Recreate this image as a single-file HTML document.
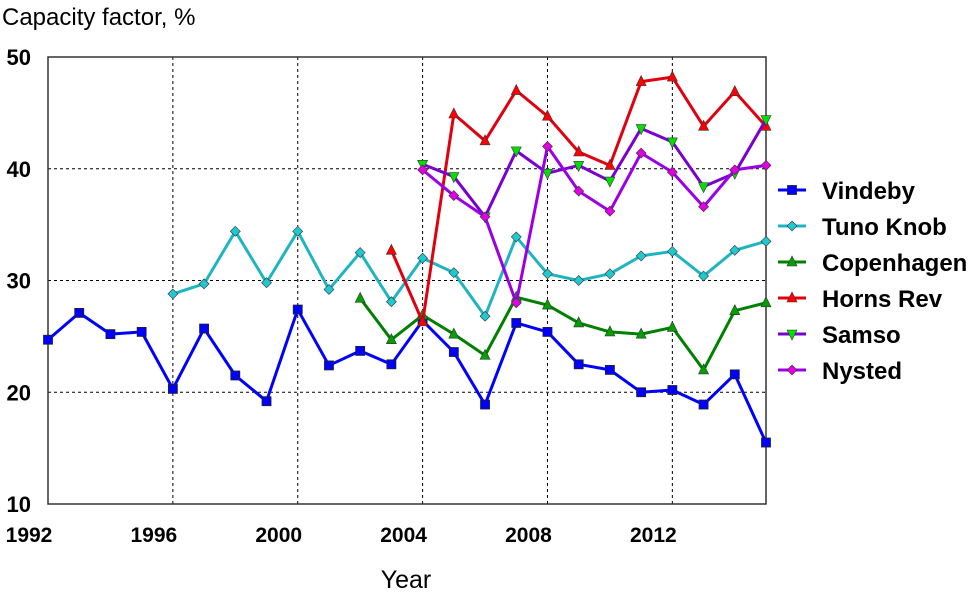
<!DOCTYPE html>
<html><head><meta charset="utf-8"><style>
body{margin:0;background:#fff;font-family:"Liberation Sans",Arial,sans-serif}
svg text{font-family:"Liberation Sans",Arial,sans-serif}
</style></head><body>
<svg id="c" width="980" height="592" xmlns="http://www.w3.org/2000/svg"></svg>
<script>
const years=[1992,1993,1994,1995,1996,1997,1998,1999,2000,2001,2002,2003,2004,2005,2006,2007,2008,2009,2010,2011,2012,2013,2014,2015];
const vindeby=[24.7,27.1,25.2,25.4,20.3,25.7,21.5,19.2,27.4,22.4,23.7,22.5,26.4,23.6,18.9,26.2,25.4,22.5,22.0,20.0,20.2,18.9,21.6,15.5];
const tunoKnob=[null,null,null,null,28.8,29.7,34.4,29.8,34.4,29.2,32.5,28.1,32.0,30.7,26.8,33.9,30.6,30.0,30.6,32.2,32.6,30.4,32.7,33.5];
const copenhagen=[null,null,null,null,null,null,null,null,null,null,28.4,24.7,26.9,25.2,23.3,28.5,27.8,26.2,25.4,25.2,25.8,22.0,27.3,28.0];
const hornsRev=[null,null,null,null,null,null,null,null,null,null,null,32.7,26.3,44.9,42.5,47.0,44.7,41.5,40.3,47.8,48.2,43.8,46.9,43.8];
const samso=[null,null,null,null,null,null,null,null,null,null,null,null,40.4,39.3,35.7,41.6,39.6,40.3,38.9,43.6,42.4,38.4,39.6,44.4];
const nysted=[null,null,null,null,null,null,null,null,null,null,null,null,39.9,37.6,35.7,28.0,42.0,38.0,36.2,41.4,39.7,36.6,39.9,40.3];
const xTicks=[1992,1996,2000,2004,2008,2012];
const yTicks=[10,20,30,40,50];
const L=48,R=766,T=57,B=504;
const x=v=>L+(v-1992)/(2015-1992)*(R-L);
const y=v=>B-(v-10)/40*(B-T);
const svg=document.getElementById('c');const NS='http://www.w3.org/2000/svg';
function el(t,a,p){const e=document.createElementNS(NS,t);for(const k in a)e.setAttribute(k,a[k]);(p||svg).appendChild(e);return e;}
xTicks.forEach(t=>{if(t>1992){const g=el('line',{x1:x(t),x2:x(t),y1:T,y2:B,stroke:'#000','stroke-dasharray':'3,3','stroke-width':1});}
 const tx=el('text',{x:x(t)-19,y:542,'text-anchor':'middle','font-size':21,'font-weight':'bold'});tx.textContent=t;});
yTicks.forEach(t=>{if(t>10&&t<50){const g=el('line',{x1:L,x2:R,y1:y(t),y2:y(t),stroke:'#000','stroke-dasharray':'3,3','stroke-width':1});}
 const tx=el('text',{x:31,y:y(t)+8,'text-anchor':'end','font-size':22,'font-weight':'bold'});tx.textContent=t;});
const fr=el('rect',{x:L,y:T,width:R-L,height:B-T,fill:'none',stroke:'#333','stroke-width':1.5});

function marker(type,cx,cy,fill,g){
 if(type==='sq')return el('rect',{x:cx-4.5,y:cy-4.5,width:9,height:9,fill,stroke:'#222','stroke-width':0.8},g);
 if(type==='dia')return el('polygon',{points:`${cx},${cy-5} ${cx+5},${cy} ${cx},${cy+5} ${cx-5},${cy}`,fill,stroke:'#333','stroke-width':0.6},g);
 if(type==='up')return el('polygon',{points:`${cx},${cy-6} ${cx+5},${cy+4} ${cx-5},${cy+4}`,fill,stroke:'#333','stroke-width':0.6},g);
 return el('polygon',{points:`${cx},${cy+6} ${cx+5},${cy-4} ${cx-5},${cy-4}`,fill,stroke:'#333','stroke-width':0.6},g);
}
const series=[
 {n:'Vindeby',d:vindeby,c:'#0000ff',m:'sq',f:'#0000ff'},
 {n:'Tuno Knob',d:tunoKnob,c:'#1fb5c0',m:'dia',f:'#20c8d0'},
 {n:'Copenhagen',d:copenhagen,c:'#008000',m:'up',f:'#00a000'},
 {n:'Horns Rev',d:hornsRev,c:'#e00010',m:'up',f:'#ff0000'},
 {n:'Samso',d:samso,c:'#7a00d0',m:'down',f:'#00e000'},
 {n:'Nysted',d:nysted,c:'#9a00e8',m:'dia',f:'#e000e0'}];
series.forEach((s,i)=>{
 const g=el('g',{});
 const pts=[];s.d.forEach((v,j)=>{if(v!=null)pts.push([x(years[j]),y(v)]);});
 el('polyline',{points:pts.map(p=>p.join(',')).join(' '),fill:'none',stroke:s.c,'stroke-width':3,'stroke-linejoin':'round'},g);
 pts.forEach(p=>{const m=marker(s.m,p[0],p[1],s.f,g);});
 const ly=190+i*36;
 const lg=el('g',{});
 el('line',{x1:778,x2:806,y1:ly,y2:ly,stroke:s.c,'stroke-width':3},lg);
 marker(s.m,792,ly,s.f,lg);
 const t=el('text',{x:822,y:ly+9,'font-size':24,'font-weight':'bold'},lg);t.textContent=s.n;
});
const yt=el('text',{x:2,y:25,'font-size':24});yt.textContent='Capacity factor, %';
const xt=el('text',{x:406,y:588,'font-size':25,'text-anchor':'middle'});xt.textContent='Year';
</script>
</body></html>
